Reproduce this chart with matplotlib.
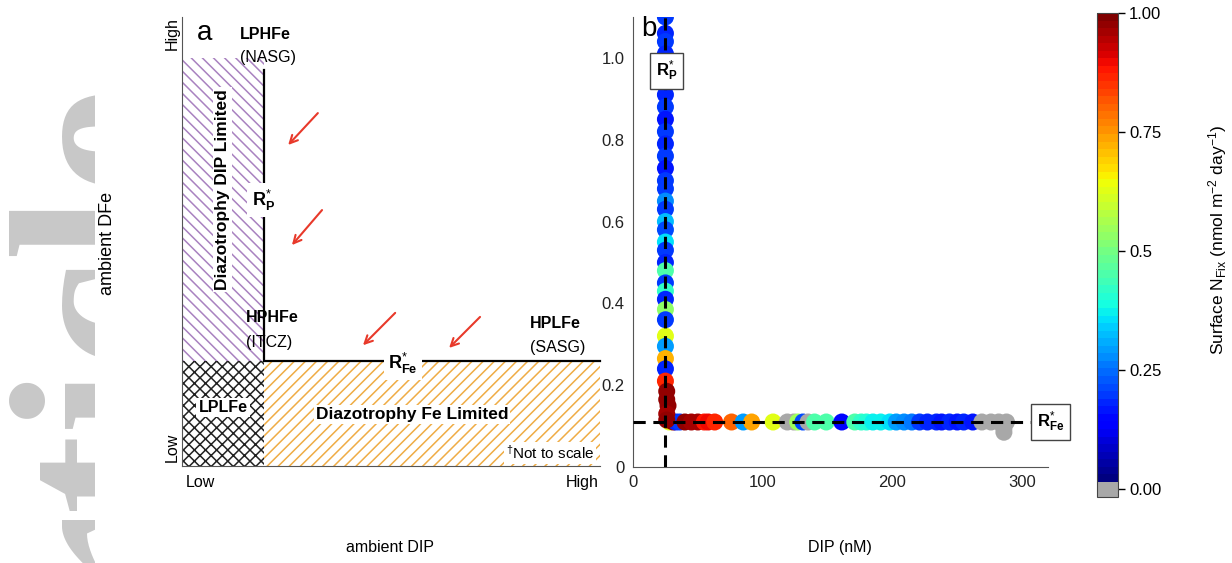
import numpy as np
import matplotlib
matplotlib.use("Agg")
import matplotlib.pyplot as plt
from matplotlib.colors import ListedColormap, Normalize
from matplotlib.cm import ScalarMappable
from matplotlib.patches import Rectangle
from matplotlib.transforms import Bbox, TransformedBbox

plt.rcParams['font.family'] = ['Liberation Sans', 'DejaVu Sans']
plt.rcParams['mathtext.fontset'] = 'custom'
plt.rcParams['mathtext.rm'] = 'Liberation Sans'
plt.rcParams['mathtext.bf'] = 'Liberation Sans:bold'
plt.rcParams['mathtext.it'] = 'Liberation Sans:italic'
plt.rcParams['hatch.linewidth'] = 1.1

# panel a: conceptual thresholds (axis fraction, not to scale)
rp_x = 0.196
rfe_y = 0.234

# panel b: critical values
rp_dip = 25.0
rfe_dfe = 0.11

# vertical branch (DIP ~ R*P)
col_dip = [25, 25, 25, 25, 25, 25, 25, 25, 25, 25, 25, 25, 25, 25, 25, 25,
           25, 25, 25, 25, 25, 25, 25, 25, 25, 25, 25, 25, 25, 25, 25, 25,
           25, 26, 26, 27, 26, 26]
col_dfe = [1.10, 1.06, 1.04, 1.01, 0.98, 0.95, 0.91, 0.88, 0.85, 0.82, 0.79,
           0.76, 0.73, 0.70, 0.68, 0.65, 0.63, 0.60, 0.58, 0.55, 0.53, 0.50,
           0.48, 0.45, 0.43, 0.41, 0.385, 0.36, 0.32, 0.295, 0.265, 0.24,
           0.21, 0.185, 0.165, 0.15, 0.13, 0.115]
col_nfix = [0.19, 0.18, 0.19, 0.18, 0.17, 0.19, 0.18, 0.19, 0.17, 0.19, 0.18,
            0.19, 0.17, 0.19, 0.20, 0.28, 0.19, 0.33, 0.22, 0.35, 0.19, 0.18,
            0.45, 0.19, 0.42, 0.18, 0.53, 0.19, 0.63, 0.30, 0.72, 0.18,
            0.86, 0.97, 0.98, 0.97, 0.96, 0.97]

# horizontal branch (DFe ~ R*Fe)
row_dip = [28, 31, 33, 36, 40, 45, 50, 55, 58, 63, 76, 85, 91.5, 108, 119,
           124, 127, 131, 135, 140, 149, 161, 171, 176, 180, 185, 191, 198,
           203, 209, 215, 221, 227, 234, 238, 244, 250, 255, 262, 269, 276,
           282, 288, 286, 286]
row_dfe = [0.11, 0.11, 0.11, 0.11, 0.11, 0.11, 0.11, 0.11, 0.11, 0.11, 0.11,
           0.11, 0.11, 0.11, 0.11, 0.11, 0.11, 0.11, 0.11, 0.11, 0.11, 0.11,
           0.11, 0.11, 0.11, 0.11, 0.11, 0.11, 0.11, 0.11, 0.11, 0.11, 0.11,
           0.11, 0.11, 0.11, 0.11, 0.11, 0.11, 0.11, 0.11, 0.11, 0.11,
           0.095, 0.085]
row_nfix = [0.62, 0.98, 0.18, 0.19, 0.97, 0.96, 0.96, 0.88, 0.90, 0.87, 0.80,
            0.30, 0.73, 0.63, 0.0, 0.0, 0.55, 0.22, 0.0, 0.45, 0.45, 0.15,
            0.45, 0.42, 0.40, 0.37, 0.37, 0.35, 0.29, 0.28, 0.26, 0.20, 0.18,
            0.18, 0.17, 0.18, 0.17, 0.18, 0.17, 0.0, 0.0, 0.0, 0.0, 0.0, 0.0]

cbar_ticks = [0.0, 0.25, 0.5, 0.75, 1.0]
cbar_labels = ['0.00', '0.25', '0.5', '0.75', '1.00']

fig = plt.figure(figsize=(12.32, 5.63), dpi=100)

# faint watermark on the left edge
wm = fig.text(174/1232, -0.405, 'Article', rotation=90, rotation_mode='anchor',
              ha='left', va='baseline', fontsize=173, color='#c8c8c8',
              family='Liberation Serif', fontweight='bold', zorder=0)
wm.set_clip_box(TransformedBbox(Bbox([[0, 0], [95/1232, 1]]), fig.transFigure))

# ---------------- panel a ----------------
ax1 = fig.add_axes([182/1232, 97/563, 418/1232, 449/563])
ax1.set_xlim(0, 1)
ax1.set_ylim(0, 1)
for s in ['top', 'right']:
    ax1.spines[s].set_visible(False)
for s in ['left', 'bottom']:
    ax1.spines[s].set_color('#555555')
ax1.set_xticks([])
ax1.set_yticks([])

ax1.add_patch(Rectangle((0, rfe_y), rp_x, 0.909 - rfe_y, facecolor='none',
                        edgecolor='#a982c0', hatch='\\\\\\', lw=0))
ax1.add_patch(Rectangle((0, 0), rp_x, rfe_y, facecolor='none',
                        edgecolor='#222222', hatch='xxx', lw=0))
ax1.add_patch(Rectangle((rp_x, 0), 1 - rp_x, rfe_y, facecolor='none',
                        edgecolor='#efac45', hatch='///', lw=0))

ax1.plot([rp_x, rp_x, 1.0], [0.882, rfe_y, rfe_y], color='k', lw=1.6,
         solid_joinstyle='miter', clip_on=False)

white = dict(facecolor='white', edgecolor='none', pad=1.5)
ax1.text(0.194, 0.592, r'$\mathbf{R}_{\mathbf{P}}^{*}$', fontsize=13,
         ha='center', va='center', bbox=dict(facecolor='white', edgecolor='none', pad=3))
ax1.text(0.529, 0.229, r'$\mathbf{R}_{\mathbf{Fe}}^{*}$', fontsize=13,
         ha='center', va='center', bbox=dict(facecolor='white', edgecolor='none', pad=3))

ax1.text(0.055, 0.964, 'a', fontsize=20, ha='center', va='center')
ax1.text(0.139, 0.960, 'LPHFe', fontsize=11.5, fontweight='bold', va='center')
ax1.text(0.139, 0.909, '(NASG)', fontsize=11.5, va='center')
ax1.text(0.153, 0.330, 'HPHFe', fontsize=11.5, fontweight='bold', va='center')
ax1.text(0.153, 0.276, '(ITCZ)', fontsize=11.5, va='center')
ax1.text(0.833, 0.318, 'HPLFe', fontsize=11.5, fontweight='bold', va='center')
ax1.text(0.833, 0.265, '(SASG)', fontsize=11.5, va='center')
ax1.text(0.096, 0.615, 'Diazotrophy DIP Limited', fontsize=12.5,
         fontweight='bold', rotation=90, ha='center', va='center', bbox=white)
ax1.text(0.098, 0.131, 'LPLFe', fontsize=11.5, fontweight='bold',
         ha='center', va='center', bbox=white)
ax1.text(0.550, 0.114, 'Diazotrophy Fe Limited', fontsize=12.5,
         fontweight='bold', ha='center', va='center', bbox=white)
ax1.text(0.880, 0.029, r'$^{\dagger}$Not to scale', fontsize=11,
         ha='center', va='center', bbox=white)

ax1.text(-0.024, 0.964, 'High', fontsize=11.5, rotation=90, ha='center', va='center')
ax1.text(-0.024, 0.042, 'Low', fontsize=11.5, rotation=90, ha='center', va='center')
ax1.text(0.043, -0.036, 'Low', fontsize=11.5, ha='center', va='center')
ax1.text(0.957, -0.036, 'High', fontsize=11.5, ha='center', va='center')

arrows = [((0.325, 0.786), (0.254, 0.715)), ((0.335, 0.570), (0.263, 0.492)),
          ((0.510, 0.341), (0.433, 0.269)), ((0.713, 0.332), (0.639, 0.263))]
for start, end in arrows:
    ax1.annotate('', xy=end, xytext=start,
                 arrowprops=dict(arrowstyle='->', color='#e8392a', lw=1.5,
                                 mutation_scale=14, shrinkA=0, shrinkB=0))

fig.text(108/1232, (563 - 243)/563, 'ambient DFe', fontsize=13, rotation=90,
         ha='center', va='center')
fig.text(390/1232, 0.027, 'ambient DIP', fontsize=11.5, ha='center', va='center')

# ---------------- panel b ----------------
grey = np.array([[0.66, 0.66, 0.66, 1.0]])
cols = np.vstack([grey, grey, plt.get_cmap('jet')(np.linspace(0, 1, 62))])
cmap = ListedColormap(cols)
norm = Normalize(vmin=-0.0165, vmax=1.0)

ax2 = fig.add_axes([633/1232, 96/563, 415/1232, 450/563])
ax2.set_xlim(0, 320)
ax2.set_ylim(0, 1.10)
for s in ['top', 'right']:
    ax2.spines[s].set_visible(False)
for s in ['left', 'bottom']:
    ax2.spines[s].set_color('#555555')

ax2.scatter(row_dip, row_dfe, c=row_nfix, cmap=cmap, norm=norm, s=150,
            edgecolors='none', zorder=2)
ax2.scatter(col_dip, col_dfe, c=col_nfix, cmap=cmap, norm=norm, s=150,
            edgecolors='none', zorder=2)
ax2.axvline(rp_dip, color='k', lw=2.2, ls=(0, (4, 2.5)), zorder=3)
ax2.axhline(rfe_dfe, color='k', lw=2.2, ls=(0, (4, 2.5)), zorder=3)

ax2.set_xticks([0, 100, 200, 300])
ax2.set_yticks([0, 0.2, 0.4, 0.6, 0.8, 1.0])
ax2.set_yticklabels(['0', '0.2', '0.4', '0.6', '0.8', '1.0'])
ax2.tick_params(length=0, labelsize=12, pad=6, colors='#222222')

box = dict(facecolor='white', edgecolor='#444444', lw=1.0, pad=4)
ax2.text(26, 0.968, r'$\mathbf{R}_{\mathbf{P}}^{*}$', fontsize=12,
         ha='center', va='center', bbox=box, zorder=4)
ax2.text(322, rfe_dfe, r'$\mathbf{R}_{\mathbf{Fe}}^{*}$', fontsize=12,
         ha='center', va='center', bbox=box, zorder=4, clip_on=False)
ax2.text(12, 1.07, 'b', fontsize=20, ha='center', va='center', zorder=5)

fig.text(840/1232, 0.027, 'DIP (nM)', fontsize=11.5, ha='center', va='center')

# colorbar
cax = fig.add_axes([1097/1232, 66/563, 21/1232, 484/563])
cb = fig.colorbar(ScalarMappable(norm=norm, cmap=cmap), cax=cax, ticks=cbar_ticks)
cb.set_ticklabels(cbar_labels)
cb.outline.set_edgecolor('#444444')
cb.outline.set_linewidth(0.8)
cax.tick_params(length=5, width=1, labelsize=12, pad=3)
fig.text(1218/1232, (563 - 240)/563,
         r'Surface N$_{\mathrm{Fix}}$ (nmol m$^{-2}$ day$^{-1}$)',
         fontsize=12.5, rotation=90, ha='center', va='center')

fig.savefig('out.png', dpi=100)
